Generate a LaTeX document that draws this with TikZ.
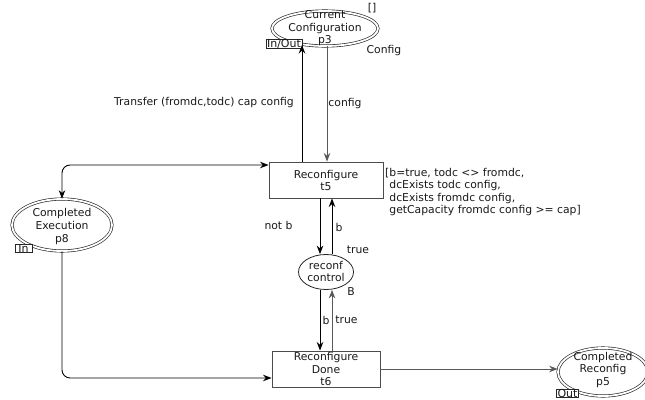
\documentclass[tikz,border=0pt]{standalone}
\usepackage{fontspec}
\setmainfont{DejaVu Sans}
\usetikzlibrary{arrows.meta,shapes.geometric}

\begin{document}
\begin{tikzpicture}[x=1pt,y=-1pt,
  every node/.style={font=\fontsize{10.8}{12.6}\selectfont, text=black!90},
  place/.style={ellipse, draw=black!85, double, double distance=1.8pt, line width=0.65pt, inner sep=0pt},
  ctrlplace/.style={ellipse, draw=black!85, line width=0.8pt, inner sep=0pt},
  trans/.style={rectangle, draw=black!70, line width=0.9pt, inner sep=0pt},
  txt/.style={align=center, inner sep=0pt},
  lbl/.style={inner sep=0pt},
  port/.style={draw=black!85, line width=0.7pt, fill=white, inner xsep=1pt, inner ysep=0pt,
    text height=7.8pt, text depth=0.8pt, font=\fontsize{11}{12}\selectfont},
  arc/.style={draw=black, line width=0.9pt, -{Stealth[length=8.5pt,width=6.5pt]}},
  grayarc/.style={arc, draw=black!65},
  dblarc/.style={draw=black, line width=0.9pt, {Stealth[length=8.5pt,width=6.5pt]}-{Stealth[length=8.5pt,width=6.5pt]}}
]
\useasboundingbox (0,0) rectangle (645,399);
\clip (0,0) rectangle (645,399);

% places
\node[place, minimum width=106pt, minimum height=35pt] (p3) at (325,28.5) {};
\node[txt] (p3t) at (325,28.5) {Current\\Configuration\\p3};
\node[port] (p3port) at (284,44) {In/Out};

\node[place, minimum width=100pt, minimum height=52pt] (p8) at (62,225) {};
\node[txt] (p8t) at (62,226.5) {Completed\\Execution\\p8};
\node[port, minimum width=17pt] (p8port) at (23.5,248.5) {In};

\node[place, minimum width=90pt, minimum height=48pt] (p5) at (603,372) {};
\node[txt] (p5t) at (603,370) {Completed\\Reconfig\\p5};
\node[port] (p5port) at (567.5,393.5) {Out};

\node[ctrlplace, minimum width=55pt, minimum height=35pt] (rc) at (326,272) {};
\node[txt] (rct) at (326,271.5) {reconf\\control};

% transitions
\node[trans, minimum width=114pt, minimum height=36pt] (t5) at (326,180) {};
\node[txt] (t5t) at (326,180.5) {Reconfigure\\t5};
\node[trans, minimum width=108pt, minimum height=36pt] (t6) at (326,369) {};
\node[txt] (t6t) at (326,369) {Reconfigure\\Done\\t6};

% arcs around t5
\draw[arc] ([xshift=-24pt]t5.north) -- ([xshift=-24pt]t5.north |- p3.-141);
\draw[grayarc] ([xshift=1pt]t5.north |- p3.south) -- ([xshift=1pt]t5.north);
\draw[dblarc, rounded corners=8pt] ([yshift=15pt]t5.west) -| (p8.north);
\draw[arc] ([xshift=-6pt]t5.south) -- ([xshift=-6pt]t5.south |- rc.north);
\draw[arc] ([xshift=6pt]t5.south |- rc.north) -- ([xshift=6pt]t5.south);

% arcs around t6
\draw[arc] ([xshift=-6pt]t6.north |- rc.south) -- ([xshift=-6pt]t6.north);
\draw[grayarc] ([xshift=6pt]t6.north) -- ([xshift=6pt]t6.north |- rc.south);
\draw[arc, rounded corners=8pt] (p8.south) |- ([yshift=-9pt]t6.west);
\draw[grayarc] (t6.east) -- (t6.east -| p5.west);

% inscriptions
\node[lbl] (p3init) at (372,8) {[]};
\node[lbl] (p3type) at (384,51) {Config};
\node[lbl] (a1) at (204,103) {Transfer (fromdc,todc) cap config};
\node[lbl] (a2) at (345,104) {config};
\node[lbl, align=left, anchor=west] (guard) at (385,192)
  {[b=true, todc <> fromdc,\\
   \phantom{[}dcExists todc config,\\
   \phantom{[}dcExists fromdc config,\\
   \phantom{[}getCapacity fromdc config >= cap]};
\node[lbl] (a3) at (278.5,225) {not b};
\node[lbl] (a4) at (339,227) {b};
\node[lbl] (a5) at (358,250) {true};
\node[lbl] (rctype) at (351,292) {B};
\node[lbl] (a6) at (326,320) {b};
\node[lbl] (a7) at (346.5,320) {true};
\end{tikzpicture}
\end{document}
